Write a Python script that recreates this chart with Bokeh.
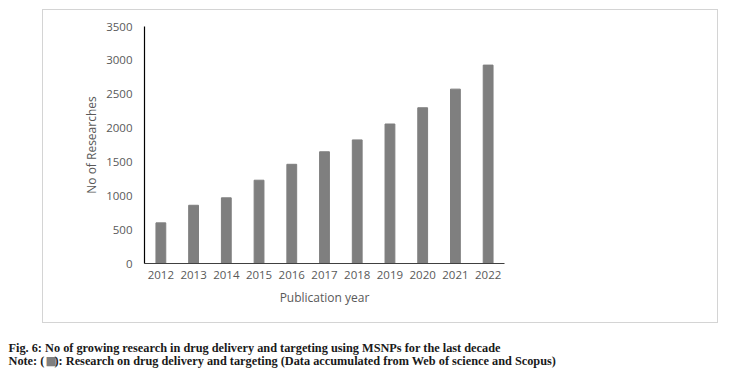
from bokeh.plotting import figure
from bokeh.models import Range1d, FixedTicker, Label
from bokeh.layouts import column
from bokeh.embed import file_html
from bokeh.resources import INLINE

years = ["2012", "2013", "2014", "2015", "2016", "2017", "2018", "2019", "2020", "2021", "2022"]
researches = [600, 860, 970, 1230, 1465, 1650, 1825, 2060, 2300, 2575, 2930]
y_ticks = [0, 500, 1000, 1500, 2000, 2500, 3000, 3500]
x_title = "Publication year"
y_title = "No of Researches"
caption1 = "Fig. 6: No of growing research in drug delivery and targeting using MSNPs for the last decade"
caption2a = "Note: ("
caption2b = "): Research on drug delivery and targeting (Data accumulated from Web of science and Scopus)"

# chart panel (the light-gray box)
BW, BH = 676, 314
FL, FT, FW, FH = 101, 16, 360, 237
FR = BW - FL - FW
FB = BH - FT - FH
YMAX = 3500

p = figure(width=BW, height=BH, x_range=years, y_range=Range1d(0, YMAX),
           output_backend="svg", toolbar_location=None,
           min_border_left=FL, min_border_right=FR, min_border_top=FT, min_border_bottom=FB)
p.margin = (9, 0, 0, 42)
p.styles = {"border": "1px solid #d4d4d4"}
p.frame_align = False

p.vbar(x=years, top=researches, width=0.3, color="#7f7f7f", line_color="#7f7f7f")

p.grid.visible = False
p.outline_line_color = None
p.background_fill_color = "white"
p.border_fill_color = "white"

p.yaxis.ticker = FixedTicker(ticks=y_ticks)
for ax in (p.xaxis[0], p.yaxis[0]):
    ax.major_tick_line_color = None
    ax.minor_tick_line_color = None
    ax.major_label_text_color = "#595959"
    ax.major_label_text_font = "Open Sans"
    ax.major_label_text_font_size = "11.5px"
    ax.axis_label_text_color = "#595959"
    ax.axis_label_text_font = "Open Sans"
    ax.axis_label_text_font_size = "12px"
    ax.axis_label_text_font_style = "normal"

p.yaxis.axis_line_color = "#000000"
p.yaxis.axis_line_width = 1.2
p.xaxis.axis_line_color = "#404040"
p.xaxis.axis_line_width = 1.2
p.yaxis.major_label_standoff = 6
p.xaxis.major_label_standoff = 1
p.yaxis.axis_label = y_title
p.xaxis.axis_label = x_title
p.yaxis.axis_label_standoff = 3
p.xaxis.axis_label_standoff = 7

# caption panel
CW, CH = 748, 46
c = figure(width=CW, height=CH, x_range=Range1d(0, CW), y_range=Range1d(0, CH),
           output_backend="svg", toolbar_location=None,
           min_border_left=0, min_border_right=0, min_border_top=0, min_border_bottom=0)
c.frame_align = False
c.axis.visible = False
c.grid.visible = False
c.outline_line_color = None
c.background_fill_color = "white"
c.border_fill_color = "white"

cap_font = "Liberation Serif"
cap_size = "12.3px"
c.add_layout(Label(x=8, y=22, text=caption1,
                   text_font=cap_font, text_font_style="bold", text_font_size=cap_size,
                   text_color="#1a1a1a", text_baseline="middle"))
c.add_layout(Label(x=8, y=9, text=caption2a,
                   text_font=cap_font, text_font_style="bold", text_font_size=cap_size,
                   text_color="#1a1a1a", text_baseline="middle"))
c.add_layout(Label(x=45, y=9, text="\u25a0",
                   text_font="DejaVu Sans", text_font_size="12px",
                   text_color="#7f7f7f", text_baseline="middle"))
c.add_layout(Label(x=54, y=9, text=caption2b,
                   text_font=cap_font, text_font_style="bold", text_font_size=cap_size,
                   text_color="#1a1a1a", text_baseline="middle"))

layout = column(p, c, spacing=0)
open("out.html", "w").write(file_html(layout, INLINE))
